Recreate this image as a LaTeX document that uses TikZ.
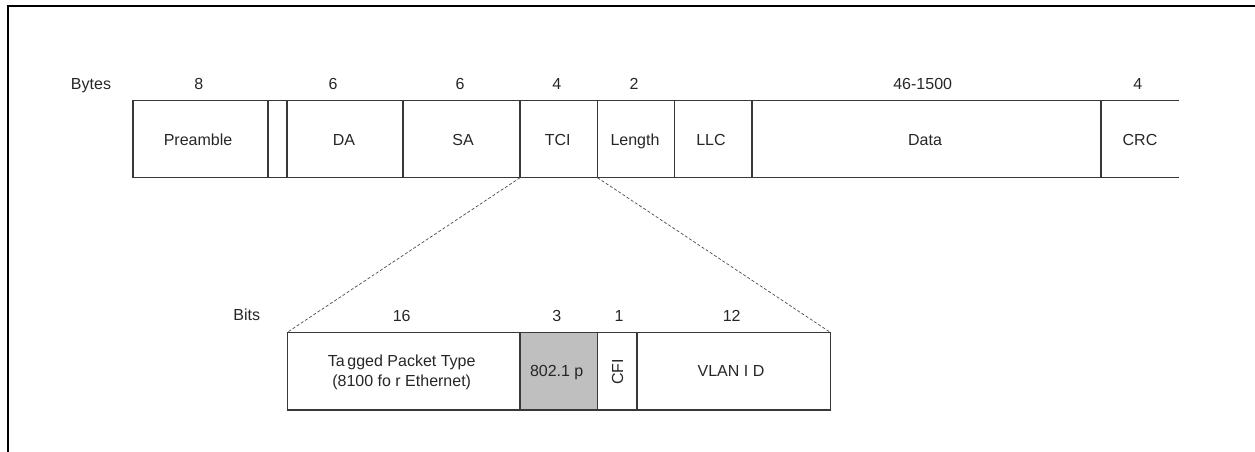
\documentclass[tikz,border=0pt]{standalone}
\usepackage{fontspec}
\setmainfont{Liberation Sans}
\begin{document}
\begin{tikzpicture}[x=1pt,y=-1pt,
  font=\fontsize{16}{19}\selectfont,
  linec/.style={draw=black!78, line width=1.1pt},
  field/.style={rectangle, linec, inner sep=0pt, outer sep=0pt, anchor=north west, minimum height=77.2pt},
  bfield/.style={rectangle, linec, inner sep=0pt, outer sep=0pt, anchor=north west, minimum height=77.7pt},
  openfield/.style={rectangle, draw=none, inner sep=0pt, outer sep=0pt, anchor=north west, minimum height=77.2pt},
  lbl/.style={inner sep=0pt, anchor=base, text=black!85},
  zoomline/.style={draw=black!70, line width=0.7pt, dash pattern=on 3pt off 2pt},
  framel/.style={draw=black, line width=2.3pt}
]
\useasboundingbox (0,0) rectangle (1255,452);
% frame
\coordinate (fb) at (7.8,452);
\coordinate (fc) at (7.8,6.2);
\coordinate (fr) at (1255,6.2);
\draw[framel] (fb) -- (fc) -- (fr);

% top row
\node[field, minimum width=135pt] (pre) at (133,100.5) {};
\node[field, minimum width=19pt] (sfd) at (268,100.5) {};
\node[field, minimum width=116pt] (da) at (287,100.5) {};
\node[field, minimum width=117pt] (sa) at (403,100.5) {};
\node[field, minimum width=77.5pt] (tci) at (520,100.5) {};
\node[field, minimum width=77pt] (len) at (597.5,100.5) {};
\node[field, minimum width=77.5pt] (llc) at (674.5,100.5) {};
\node[field, minimum width=349pt] (data) at (752,100.5) {};
\node[openfield, minimum width=78pt] (crc) at (1101,100.5) {};
\draw[linec] (crc.north east) -- (crc.north west) -- (crc.south west) -- (crc.south east);

\node[lbl] (tpre) at (198,145) {Preamble};
\node[lbl] (tda) at (344,145) {DA};
\node[lbl] (tsa) at (463,145) {SA};
\node[lbl] (ttci) at (557.7,145) {TCI};
\node[lbl] (tlen) at (635,145) {Length};
\node[lbl] (tllc) at (711,145) {LLC};
\node[lbl] (tdata) at (925,145) {Data};
\node[lbl] (tcrc) at (1140,145) {CRC};

\node[lbl] (bytes) at (91,89.5) {Bytes};
\node[lbl] (n8) at (198.7,89.5) {8};
\node[lbl] (n6a) at (333,89.5) {6};
\node[lbl] (n6b) at (460,89.5) {6};
\node[lbl] (n4a) at (556.7,89.5) {4};
\node[lbl] (n2) at (634,89.5) {2};
\node[lbl] (n46) at (922.7,89.5) {46-1500};
\node[lbl] (n4b) at (1137.7,89.5) {4};

% bottom row
\node[bfield, minimum width=232.7pt] (tpt) at (287.3,332.3) {};
\node[bfield, minimum width=77.3pt, fill=black!25] (pri) at (520,332.3) {};
\node[bfield, minimum width=39.7pt] (cfi) at (597.3,332.3) {};
\node[bfield, minimum width=193.3pt] (vlan) at (637,332.3) {};

\node[lbl] (ttpt1) at (401.7,366.7) {Ta\,gged Packet Type};
\node[lbl] (ttpt2) at (401.7,386.7) {(8100 fo r Ethernet)};
\node[lbl] (tpri) at (556.7,376.7) {802.1 p};
\node[inner sep=0pt, rotate=90, text=black!85] (tcfi) at (617.5,371.7) {CFI};
\node[lbl] (tvlan) at (731,376.3) {VLAN I D};

\node[lbl] (bits) at (246.7,320.5) {Bits};
\node[lbl] (b16) at (401.7,321.5) {16};
\node[lbl] (b3) at (556.7,321.5) {3};
\node[lbl] (b1) at (619,321.5) {1};
\node[lbl] (b12) at (731.7,321.5) {12};

% zoom connectors
\draw[zoomline] (tci.south west) -- (tpt.north west);
\draw[zoomline] (tci.south east) -- (vlan.north east);
\end{tikzpicture}
\end{document}
